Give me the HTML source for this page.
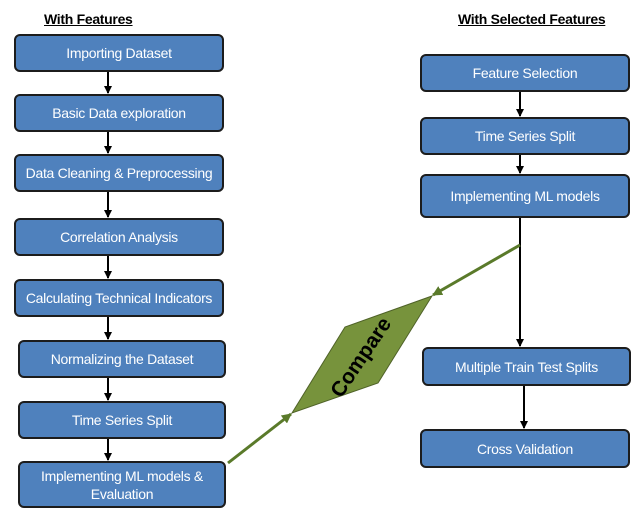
<!DOCTYPE html><html><head><style>
body{margin:0;width:639px;height:514px;background:#fff;position:relative;font-family:"Liberation Sans",sans-serif;overflow:hidden}
.b{position:absolute;background:#4f81bd;border:2px solid #1c1c1c;border-radius:6px;box-sizing:border-box;color:#fff;font-size:14px;display:flex;align-items:center;justify-content:center;text-align:center;line-height:18px;letter-spacing:-0.3px}
.t{position:absolute;font-weight:bold;font-size:14px;text-decoration:underline;letter-spacing:-0.3px}
svg{position:absolute;left:0;top:0}
</style></head><body>
<div class="t" style="left:44px;top:11px">With Features</div>
<div class="t" style="left:458px;top:11px">With Selected Features</div>
<div class="b" style="left:14px;top:34px;width:210px;height:38px">Importing Dataset</div>
<div class="b" style="left:14px;top:94px;width:210px;height:38px">Basic Data exploration</div>
<div class="b" style="left:14px;top:154px;width:210px;height:38px">Data Cleaning &amp; Preprocessing</div>
<div class="b" style="left:14px;top:218px;width:210px;height:38px">Correlation Analysis</div>
<div class="b" style="left:14px;top:279px;width:210px;height:38px">Calculating Technical Indicators</div>
<div class="b" style="left:18px;top:340px;width:208px;height:38px">Normalizing the Dataset</div>
<div class="b" style="left:18px;top:401px;width:208px;height:38px">Time Series Split</div>
<div class="b" style="left:18px;top:461px;width:208px;height:47px">Implementing ML models &amp;<br>Evaluation</div>
<div class="b" style="left:420px;top:54px;width:210px;height:38px">Feature Selection</div>
<div class="b" style="left:420px;top:117px;width:210px;height:38px">Time Series Split</div>
<div class="b" style="left:420px;top:174px;width:210px;height:44px">Implementing ML models</div>
<div class="b" style="left:422px;top:347px;width:209px;height:39px">Multiple Train Test Splits</div>
<div class="b" style="left:420px;top:429px;width:210px;height:39px">Cross Validation</div>
<svg width="639" height="514">
<defs>
<marker id="a" markerWidth="8" markerHeight="8" refX="7" refY="4" orient="auto" markerUnits="userSpaceOnUse"><path d="M0,0L8,4L0,8z" fill="#000"/></marker>
<marker id="g" markerWidth="10" markerHeight="10" refX="9" refY="5" orient="auto" markerUnits="userSpaceOnUse"><path d="M0,0L10,5L0,10z" fill="#5a7a2a"/></marker>
</defs>
<g stroke="#000" stroke-width="2" marker-end="url(#a)">
<line x1="108" y1="72" x2="108" y2="93"/>
<line x1="108" y1="132" x2="108" y2="153"/>
<line x1="108" y1="192" x2="108" y2="217"/>
<line x1="108" y1="256" x2="108" y2="278"/>
<line x1="108" y1="317" x2="108" y2="339"/>
<line x1="108" y1="378" x2="108" y2="400"/>
<line x1="108" y1="439" x2="108" y2="460"/>
<line x1="520" y1="92" x2="520" y2="116"/>
<line x1="520" y1="155" x2="520" y2="173"/>
<line x1="520" y1="218" x2="520" y2="346"/>
<line x1="524" y1="386" x2="524" y2="428"/>
</g>
<polygon points="292,413 345,327 432,296 378,383" fill="#77933c" stroke="#4f6228" stroke-width="1"/>
<text x="0" y="0" transform="translate(362,358) rotate(-56)" font-family="Liberation Sans,sans-serif" font-weight="bold" font-size="21" text-anchor="middle" dominant-baseline="middle" fill="#000">Compare</text>
<g stroke="#5a7a2a" stroke-width="3" marker-end="url(#g)">
<line x1="228" y1="463" x2="291" y2="414"/>
<line x1="520" y1="245" x2="433" y2="295"/>
</g>
</svg>
</body></html>
